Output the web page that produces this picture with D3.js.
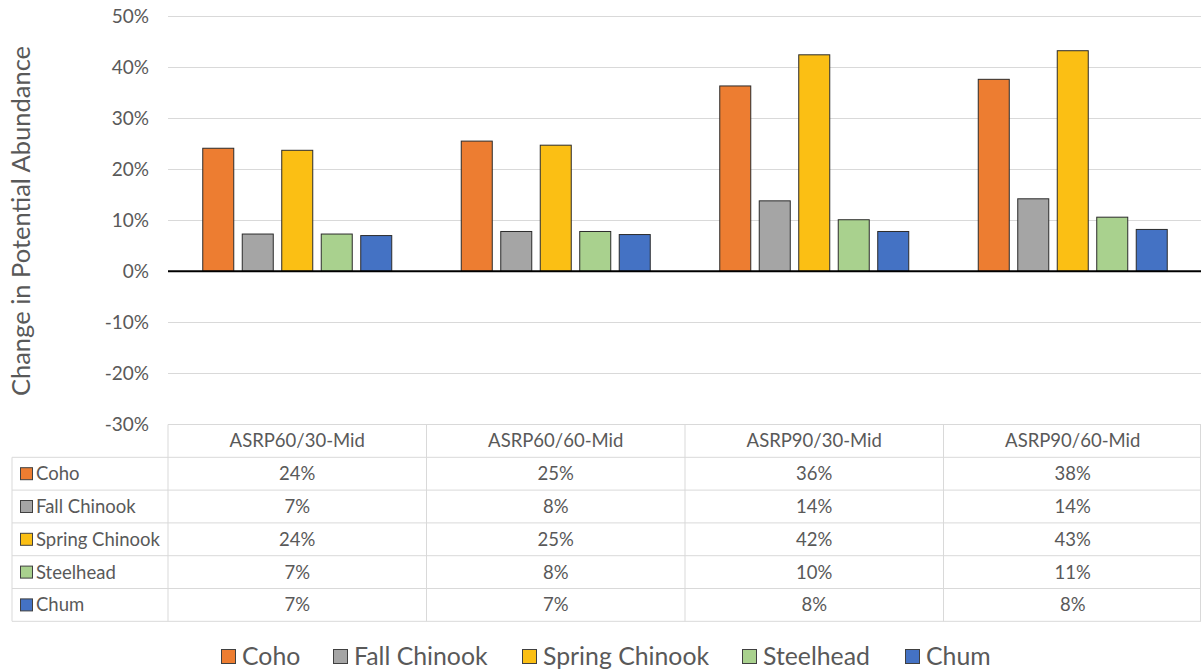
<!DOCTYPE html>
<html>
<head>
<meta charset="utf-8">
<script src="https://cdn.jsdelivr.net/npm/d3@7"></script>
<style>
  body { margin: 0; background: #fff; }
  svg text { font-family: Lato, "Open Sans", sans-serif; fill: #595959; }
</style>
</head>
<body>
<div id="chart"></div>
<script>
// ---- data ----
const scenarios = ['ASRP60/30-Mid', 'ASRP60/60-Mid', 'ASRP90/30-Mid', 'ASRP90/60-Mid'];
const species = ['Coho', 'Fall Chinook', 'Spring Chinook', 'Steelhead', 'Chum'];
const speciesColors = ['#ED7D31', '#A5A5A5', '#FBBF14', '#A9D18E', '#4472C4'];

// bar heights (fraction), one array per species, in scenario order
const coho          = [0.241, 0.255, 0.363, 0.376];
const fallChinook   = [0.073, 0.078, 0.138, 0.142];
const springChinook = [0.237, 0.247, 0.424, 0.432];
const steelhead     = [0.073, 0.078, 0.101, 0.106];
const chum          = [0.070, 0.072, 0.078, 0.082];
const seriesValues = [coho, fallChinook, springChinook, steelhead, chum];

// values printed in the data table
const tableLabels = [
  ['24%', '25%', '36%', '38%'],
  ['7%', '8%', '14%', '14%'],
  ['24%', '25%', '42%', '43%'],
  ['7%', '8%', '10%', '11%'],
  ['7%', '7%', '8%', '8%']
];
const yTicks = [-0.3, -0.2, -0.1, 0, 0.1, 0.2, 0.3, 0.4, 0.5];

// ---- layout ----
const W = 1201, H = 672;
const plotLeft = 168, plotRight = 1202;
const yTop = 16, yBottom = 424.5;
const rowH = 32.8;
const tableLeft = 12;

const svg = d3.select('#chart').append('svg')
  .attr('width', W).attr('height', H);

const x = d3.scaleBand().domain(scenarios).range([plotLeft, plotRight]);
const xInner = d3.scaleBand().domain(species).range([0, x.bandwidth()])
  .paddingInner(0.215).paddingOuter(0.88);
const y = d3.scaleLinear().domain([-0.3, 0.5]).range([yBottom, yTop]);

// gridlines
svg.append('g').selectAll('line')
  .data(yTicks.filter(d => d !== 0 && d !== -0.3))
  .join('line')
  .attr('x1', plotLeft).attr('x2', plotRight)
  .attr('y1', d => Math.round(y(d)) + 0.5).attr('y2', d => Math.round(y(d)) + 0.5)
  .attr('stroke', '#d9d9d9').attr('stroke-width', 1);

// y tick labels (Excel-style hyphen minus)
svg.append('g').selectAll('text')
  .data(yTicks)
  .join('text')
  .attr('x', 149).attr('y', d => y(d))
  .attr('dy', '0.35em')
  .attr('text-anchor', 'end')
  .style('font-size', '19px')
  .text(d => Math.round(d * 100) + '%');

// y axis title
svg.append('text')
  .attr('transform', `translate(30,${221}) rotate(-90)`)
  .attr('text-anchor', 'middle')
  .style('font-size', '25.5px')
  .text('Change in Potential Abundance');

// bars
const groups = svg.append('g').selectAll('g')
  .data(scenarios)
  .join('g')
  .attr('transform', d => `translate(${x(d)},0)`);

groups.selectAll('rect')
  .data((d, i) => species.map((s, j) => ({ s, j, v: seriesValues[j][i] })))
  .join('rect')
  .attr('x', d => xInner(d.s))
  .attr('width', xInner.bandwidth())
  .attr('y', d => y(d.v))
  .attr('height', d => y(0) - y(d.v))
  .attr('fill', d => speciesColors[d.j])
  .attr('stroke', '#2b2b2b')
  .attr('stroke-width', 1);

// zero line
svg.append('line')
  .attr('x1', plotLeft).attr('x2', plotRight)
  .attr('y1', y(0)).attr('y2', y(0))
  .attr('stroke', '#000').attr('stroke-width', 2);

// ---- data table ----
const table = svg.append('g');
const tableBottom = yBottom + rowH * 6;
const lineColor = '#d9d9d9';

table.append('line')
  .attr('x1', plotLeft).attr('x2', plotRight)
  .attr('y1', yBottom).attr('y2', yBottom)
  .attr('stroke', lineColor);
d3.range(1, 7).forEach(r => {
  table.append('line')
    .attr('x1', tableLeft).attr('x2', plotRight)
    .attr('y1', yBottom + rowH * r).attr('y2', yBottom + rowH * r)
    .attr('stroke', lineColor);
});
table.append('line')
  .attr('x1', tableLeft).attr('x2', tableLeft)
  .attr('y1', yBottom + rowH).attr('y2', tableBottom)
  .attr('stroke', lineColor);
scenarios.forEach(s => {
  table.append('line')
    .attr('x1', x(s)).attr('x2', x(s))
    .attr('y1', yBottom).attr('y2', tableBottom)
    .attr('stroke', lineColor);
});
table.append('line')
  .attr('x1', 1200.5).attr('x2', 1200.5)
  .attr('y1', yBottom).attr('y2', tableBottom)
  .attr('stroke', lineColor);

// header
table.selectAll('.hdr')
  .data(scenarios)
  .join('text')
  .attr('class', 'hdr')
  .attr('x', d => x(d) + x.bandwidth() / 2)
  .attr('y', yBottom + rowH / 2)
  .attr('dy', '0.35em')
  .attr('text-anchor', 'middle')
  .style('font-size', '18.5px')
  .text(d => d);

// series rows
species.forEach((s, j) => {
  const cy = yBottom + rowH * (j + 1.5);
  table.append('rect')
    .attr('x', 20.5).attr('y', cy - 6)
    .attr('width', 12).attr('height', 12)
    .attr('fill', speciesColors[j])
    .attr('stroke', '#404040');
  table.append('text')
    .attr('x', 36).attr('y', cy)
    .attr('dy', '0.35em')
    .style('font-size', '18.5px')
    .text(s);
  table.selectAll(null)
    .data(scenarios)
    .join('text')
    .attr('x', d => x(d) + x.bandwidth() / 2)
    .attr('y', cy)
    .attr('dy', '0.35em')
    .attr('text-anchor', 'middle')
    .style('font-size', '18.5px')
    .text((d, i) => tableLabels[j][i]);
});

// ---- bottom legend ----
const legend = svg.append('g').attr('transform', 'translate(0,656)');
const legendX = [221, 333, 522, 742, 905];
species.forEach((s, j) => {
  legend.append('rect')
    .attr('x', legendX[j] + 0.5).attr('y', -6.5)
    .attr('width', 14).attr('height', 14)
    .attr('fill', speciesColors[j])
    .attr('stroke', '#404040');
  legend.append('text')
    .attr('x', legendX[j] + 21).attr('y', 0)
    .attr('dy', '0.35em')
    .style('font-size', '24.8px')
    .text(s);
});
</script>
</body>
</html>
